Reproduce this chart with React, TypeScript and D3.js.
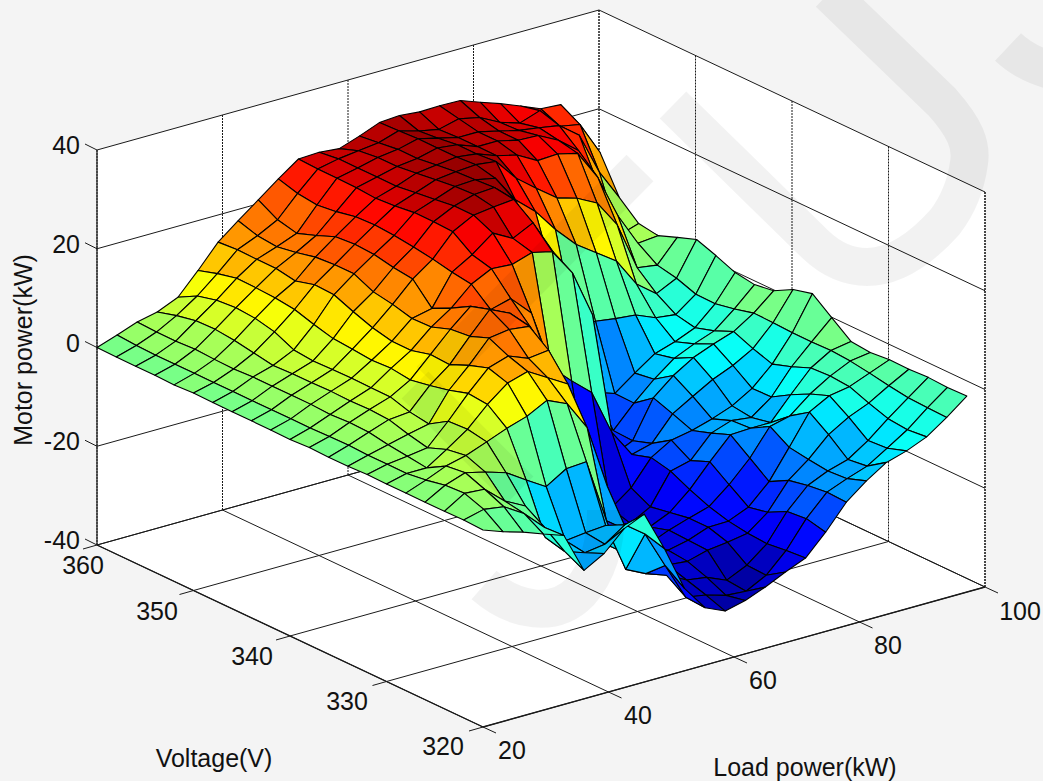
import React from "react";
import * as d3 from "d3";

const loadPower = [20,23.2,26.4,29.6,32.9,36.1,39.3,42.5,45.7,48.9,52.1,55.4,58.6,61.8,65,68.2,71.4,74.6,77.9,81.1,84.3,87.5,90.7,93.9,97.1];
const voltage = [360,358,356,354,352,350,348,346,344,342,340,338,336,334,332,330,328,326,324,322,320];
const loadTicks = [20,40,60,80,100];
const voltageTicks = [360,350,340,330,320];
const powerTicks = [-40,-20,0,20,40];

// one row per load value, one entry per voltage value
const motorPower = [
[0,-.1,-.1,-.1,-.2,0,-.1,-.1,-.1,-.1,-.2,0,-.1,-.1,.1,0,0,0,0,.1,-.1],
[1.4,1.1,1,1,1,1,1,1,1,1,1,1.1,1.2,1,1,1,1.5,2.3,2.5,1.1,-1.6],
[2.9,2.7,2.7,2.9,2.7,2.6,2.8,2.8,2.8,2.8,2.6,2.8,2.7,2,1.5,1,3.2,3.7,2.2,.5,-2.8],
[3.8,4.9,5.7,5.8,5.4,4.7,4,4.2,4.2,4.3,4.2,4.3,4.1,3,2.1,3.6,4.2,2.7,-1.3,-2,-4.3],
[5.6,7.7,8.7,9,8.7,7.8,6,5.6,5.7,5.8,5.7,5.7,4.5,3.9,6.3,6.5,5.8,1.4,-3.5,-6,-5.8],
[9.9,11.1,12,11.9,11.7,11.2,10,9,8.7,8.3,8.5,8,8.7,9.6,10.8,10.4,7.4,-1.2,-11,-12,-14],
[14.5,14.8,14.7,14.7,14,15.1,14.9,13.3,11.9,11,11,12,11.8,13.5,14.8,13.6,8.7,-3.7,-12.8,-13.4,-11.7],
[17.7,16.5,16.1,16.8,17.7,18,18,16.2,15.5,14.5,14.6,16,16.4,17.9,16.1,14.8,10.8,-1.2,-12.3,-12.8,-7.8],
[20.8,18.6,17.7,19.1,20.7,21,20.8,20,19.5,15.4,17.3,19.5,20.7,18.5,14.5,12.4,9,-.9,-12,-10,-6],
[23.9,22.8,22.3,22.8,23.6,23.8,23.5,23,22.4,21.6,21,17.7,18.8,18,15,10,3,-14,-22,-13,-14.1],
[26.8,26.6,26.6,26.5,26.2,26.5,27,27,26.8,24,23,18.8,15,11,5,-2,-10,-17,-24,-20.5,-23.3],
[27,27.5,27.5,27.5,27.5,28,28.5,29,29,27.2,22.7,14.7,5.3,-10,-22,-25,-25,-25,-25.5,-28.1,-28.4],
[26.6,28,28.5,28.5,29,29.5,30,30.2,29.5,25,24,2.5,-22,-26,-27,-27,-27,-26.4,-27.6,-28.8,-30.2],
[28,28.5,29,29,29.5,30,30.2,30.5,29.9,27,23,-1.3,-24,-27,-26,-27,-26.4,-26.8,-28.2,-30,-29.2],
[29.6,29.8,30,30,30,30.3,29.4,26.9,22,20,17.6,-4.8,-26.4,-27.6,-26.5,-25.3,-25.5,-25.7,-29.9,-30.3,-27.6],
[29.9,28.6,29,29.5,29.5,29.8,23.9,18,14,12,8,-14,-23.4,-25.4,-24.7,-24,-24,-25.2,-28,-28.2,-25.7],
[29.5,27.8,28,28,28,25.3,20.4,8,-6,-14,-21.7,-19.6,-18.4,-19.3,-21.2,-22.8,-23.9,-24.5,-24.8,-24.3,-24],
[29.6,28.8,28,28,27,22.1,15.6,-1.7,-13.7,-19.6,-19.8,-18.5,-16,-18.3,-16.7,-19.5,-22.2,-21.4,-19.4,-19,-19.9],
[29.5,27.9,27,27,24.7,19,11.4,-2.3,-15.1,-15.2,-12.3,-13.7,-15.2,-13.9,-12.4,-15.3,-18.2,-16.1,-15.3,-14.8,-15],
[28,25.8,26,26.8,24.9,17.8,8.6,-2.9,-12.1,-11.5,-8.9,-11.3,-14,-12.5,-12.2,-10,-12.4,-13,-13.5,-13.2,-11.8],
[26.6,24.5,25.4,24.7,23.9,15.7,5.8,-3.3,-9.3,-8.4,-6.4,-9,-12.5,-13,-12.2,-9,-6.4,-9.1,-12.3,-11.8,-9.2],
[25,25.9,24.7,21.5,17.9,10.2,0,-5,-8,-6.6,-4.8,-7.3,-10.1,-10,-7.7,-5.7,-4.2,-6.7,-9.6,-9.3,-8],
[23.3,21.6,21.6,13.3,9,.3,-3.1,-5.5,-6.3,-5.1,-3.4,-5,-6.3,-5,-3.4,-3.2,-3.5,-5,-6.3,-6.7,-6.3],
[23,20.8,13,2,2.3,-.3,-1.1,-2.5,-2.6,-1.8,-.8,-.9,-1.1,-1.1,-1,-1.3,-1.9,-2.6,-3.2,-3.4,-3.5],
[16.6,14,6.7,3.3,2.7,4.2,5.6,4.2,2.6,2,2.6,4.7,5.7,2.7,-.3,-.7,-.3,-.4,-.2,-.4,-.3],
];

const W = 1043, H = 781;
const FONT = "'Liberation Sans', Arial, sans-serif";

// oblique projection: each data axis adds an independent screen offset
const loadX = d3.scaleLinear([20, 100], [0, 502]);
const loadY = d3.scaleLinear([20, 100], [0, -140]);
const voltX = d3.scaleLinear([360, 320], [0, 386]);
const voltY = d3.scaleLinear([360, 320], [0, 182]);
const powerY = d3.scaleLinear([-40, 40], [0, -395]);
const ORIGIN = [97, 545];

const project = (l: number, v: number, z: number): [number, number] => [
  ORIGIN[0] + loadX(l) + voltX(v),
  ORIGIN[1] + loadY(l) + voltY(v) + powerY(z),
];

const jet = d3.scaleLinear<string>()
  .domain([0, 0.125, 0.375, 0.625, 0.875, 1])
  .range(["#00008f", "#0000ff", "#00ffff", "#ffff00", "#ff0000", "#800000"])
  .interpolate(d3.interpolateRgb as any);
const colour = (z: number) => {
  const t = Math.max(0, Math.min(1, (z + 32) / 64));
  return jet((Math.min(63, Math.floor(t * 64)) + 0.5) / 64);
};

const line = d3.line();

const L0 = 20, L1 = 100, V0 = 360, V1 = 320, Z0 = -40, Z1 = 40;

export default function App() {
  const faces: { d: string; fill: string; key: string }[] = [];
  for (let j = 0; j < voltage.length - 1; j++) {
    for (let i = loadPower.length - 2; i >= 0; i--) {
      const pts = [
        project(loadPower[i], voltage[j], motorPower[i][j]),
        project(loadPower[i + 1], voltage[j], motorPower[i + 1][j]),
        project(loadPower[i + 1], voltage[j + 1], motorPower[i + 1][j + 1]),
        project(loadPower[i], voltage[j + 1], motorPower[i][j + 1]),
      ];
      faces.push({ d: line(pts)! + "Z", fill: colour(motorPower[i][j + 1]), key: `${i}-${j}` });
    }
  }

  const seg = (a: [number, number], b: [number, number], key: string, w = 1, dash?: string) => (
    <line key={key} x1={a[0]} y1={a[1]} x2={b[0]} y2={b[1]} stroke="#1a1a1a" strokeWidth={w} strokeDasharray={dash} />
  );

  const grid: React.ReactNode[] = [];
  powerTicks.forEach((z) => {
    grid.push(seg(project(L0, V0, z), project(L1, V0, z), `zl${z}`));
    grid.push(seg(project(L1, V0, z), project(L1, V1, z), `zr${z}`));
  });
  loadTicks.forEach((l) => {
    grid.push(seg(project(l, V0, Z0), project(l, V1, Z0), `lf${l}`));
    grid.push(seg(project(l, V0, Z0), project(l, V0, Z1), `lw${l}`, 1, "2 1"));
  });
  voltageTicks.forEach((v) => {
    grid.push(seg(project(L0, v, Z0), project(L1, v, Z0), `vf${v}`));
    grid.push(seg(project(L1, v, Z0), project(L1, v, Z1), `vw${v}`, 1, "2 1"));
  });

  const wallLeft = [project(L0, V0, Z0), project(L1, V0, Z0), project(L1, V0, Z1), project(L0, V0, Z1)];
  const wallRight = [project(L1, V0, Z0), project(L1, V1, Z0), project(L1, V1, Z1), project(L1, V0, Z1)];
  const floor = [project(L0, V0, Z0), project(L1, V0, Z0), project(L1, V1, Z0), project(L0, V1, Z0)];

  const voltageLabelPos: Record<number, [number, number]> = { 360: [83, 565], 350: [157, 611], 340: [252, 656], 330: [347, 701], 320: [443, 746] };
  const loadLabelPos: Record<number, [number, number]> = { 20: [512, 750], 40: [638, 715], 60: [763, 680], 80: [888, 645], 100: [1020, 611] };

  const txt = { fontFamily: FONT, fontSize: 25, fill: "#111" } as const;

  return (
    <svg width={W} height={H} style={{ position: "absolute", left: 0, top: 0, background: "#f4f4f4" }}>
      {[wallLeft, wallRight, floor].map((p, k) => (
        <path key={k} d={line(p as any)! + "Z"} fill="#fff" stroke="none" />
      ))}
      {grid}
      {seg(project(L0, V0, Z0), project(L0, V0, Z1), "edgeL", 1.2)}
      {seg(project(L1, V1, Z0), project(L1, V1, Z1), "edgeR", 1.2, "2 1")}
      {seg(project(L0, V0, Z0), project(L0, V1, Z0), "edgeFL", 1.3)}
      {seg(project(L0, V1, Z0), project(L1, V1, Z0), "edgeFR", 1.3)}

      {/* tick marks */}
      {powerTicks.map((z) => {
        const p = project(L0, V0, z);
        return seg(p, [p[0] - 12, p[1] - 6], `tz${z}`);
      })}
      {voltageTicks.map((v) => {
        const p = project(L0, v, Z0);
        return seg(p, [p[0] - 14, p[1] + 4], `tv${v}`);
      })}
      {loadTicks.map((l) => {
        const p = project(l, V1, Z0);
        return seg(p, [p[0] + 13, p[1] + 6], `tl${l}`);
      })}

      {faces.map((f) => (
        <path key={f.key} d={f.d} fill={f.fill} stroke="#000" strokeWidth={1.1} strokeLinejoin="round" />
      ))}

      {/* pale watermark lying over the whole picture */}
      <g fill="none" stroke="#000" strokeOpacity={0.05} strokeWidth={38}>
        <path d="M829,-7 L942,102 C965,128 972,145 969,163 C966,185 958,205 945,222 C920,250 895,267 867,267 C850,267 832,260 816,245 L673,105" />
        <path d="M1008,47 Q1025,63 1050,70" />
        <path d="M484,585 C515,612 555,618 580,592 C598,572 606,545 606,510" />
        <path d="M640,168 L430,380" />
        <path d="M415,385 L520,490" />
      </g>

      {powerTicks.map((z) => (
        <text key={z} x={80} y={project(L0, V0, z)[1] - 5} textAnchor="end" dominantBaseline="central" {...txt}>{z}</text>
      ))}
      {voltageTicks.map((v) => (
        <text key={v} x={voltageLabelPos[v][0]} y={voltageLabelPos[v][1]} textAnchor="middle" dominantBaseline="central" {...txt}>{v}</text>
      ))}
      {loadTicks.map((l) => (
        <text key={l} x={loadLabelPos[l][0]} y={loadLabelPos[l][1]} textAnchor="middle" dominantBaseline="central" {...txt}>{l}</text>
      ))}
      <text x={214} y={758} textAnchor="middle" dominantBaseline="central" {...txt}>Voltage(V)</text>
      <text x={805} y={767} textAnchor="middle" dominantBaseline="central" {...txt}>Load power(kW)</text>
      <text transform="translate(23,350) rotate(-90)" textAnchor="middle" dominantBaseline="central" {...txt}>Motor power(kW)</text>
    </svg>
  );
}
